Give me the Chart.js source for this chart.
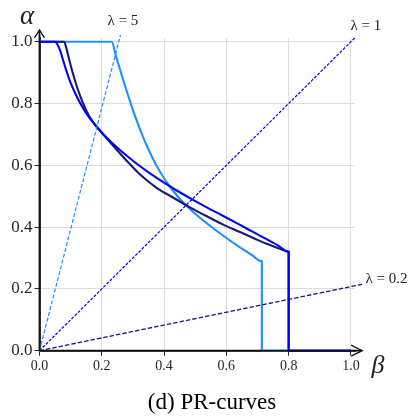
<!DOCTYPE html>
<html>
<head>
<meta charset="utf-8">
<script src="https://cdn.jsdelivr.net/npm/chart.js@4/dist/chart.umd.min.js"></script>
<style>
html,body{margin:0;padding:0;background:#fff;}
canvas{display:block;}
</style>
</head>
<body>
<canvas id="c" width="417" height="416"></canvas>
<script>
// ---- data ----
const tickValues = [0, 0.2, 0.4, 0.6, 0.8, 1.0];

const betaLight  = [0, 0.232, 0.245, 0.260, 0.275, 0.291, 0.310, 0.330, 0.350, 0.375, 0.400, 0.430, 0.460, 0.500, 0.540, 0.590, 0.640, 0.680, 0.714, 0.714, 1.0];
const alphaLight = [1, 1, 0.955, 0.905, 0.856, 0.806, 0.750, 0.698, 0.651, 0.600, 0.558, 0.516, 0.481, 0.443, 0.410, 0.372, 0.337, 0.311, 0.289, 0, 0];

const betaNavy  = [0, 0.079, 0.086, 0.094, 0.105, 0.120, 0.140, 0.160, 0.185, 0.215, 0.250, 0.290, 0.323, 0.375, 0.430, 0.483, 0.537, 0.590, 0.644, 0.690, 0.729, 0.770, 0.800, 0.800, 1.0];
const alphaNavy = [1, 1, 0.980, 0.948, 0.905, 0.855, 0.800, 0.758, 0.724, 0.688, 0.648, 0.604, 0.570, 0.528, 0.495, 0.464, 0.435, 0.408, 0.384, 0.363, 0.346, 0.331, 0.320, 0, 0];

const betaBlue  = [0, 0.050, 0.058, 0.066, 0.075, 0.085, 0.100, 0.120, 0.140, 0.160, 0.185, 0.215, 0.250, 0.290, 0.323, 0.375, 0.430, 0.483, 0.537, 0.590, 0.644, 0.690, 0.729, 0.765, 0.800, 0.800, 1.0];
const alphaBlue = [1, 1, 0.990, 0.972, 0.943, 0.910, 0.867, 0.822, 0.785, 0.754, 0.722, 0.690, 0.657, 0.623, 0.597, 0.560, 0.525, 0.494, 0.464, 0.436, 0.407, 0.382, 0.361, 0.341, 0.320, 0, 0];

const lam5Beta  = [0, 0.26];
const lam5Alpha = [0, 1.022];
const lam1Beta  = [0, 1.013];
const lam1Alpha = [0, 1.013];
const lam02Beta  = [0, 1.036];
const lam02Alpha = [0, 0.215];

const lambdaLabels = ['λ = 5', 'λ = 1', 'λ = 0.2'];
const labelBeta  = [0.268, 1.048, 1.114];
const labelAlpha = [1.067, 1.051, 0.232];

const xName = 'β';
const yName = 'α';
const caption = '(d) PR-curves';

// ---- build ----
const pts = (xs, ys) => xs.map((x, i) => ({x: x, y: ys[i]}));
const SERIF = '"Liberation Serif", "DejaVu Serif", serif';

const curve = (data, color) => ({
  data: data, borderColor: color, borderWidth: 2.1, pointRadius: 0,
  cubicInterpolationMode: 'monotone', fill: false, clip: false, borderJoinStyle: 'miter'
});
const dashed = (data, color, dash, w) => ({
  data: data, borderColor: color, borderWidth: w, borderDash: dash,
  pointRadius: 0, tension: 0, fill: false, clip: false
});

const decor = {
  id: 'decor',
  afterDraw(chart) {
    const ctx = chart.ctx;
    const xs = chart.scales.x, ys = chart.scales.y;
    const x0 = xs.getPixelForValue(0), y0 = ys.getPixelForValue(0);
    const xTip = xs.getPixelForValue(1.036), yTip = ys.getPixelForValue(1.038);
    ctx.save();
    ctx.strokeStyle = '#111';
    ctx.lineWidth = 1.8;
    ctx.lineCap = 'butt';
    ctx.beginPath();
    ctx.moveTo(x0, y0); ctx.lineTo(xTip, y0);
    ctx.moveTo(x0, y0); ctx.lineTo(x0, yTip);
    ctx.stroke();
    ctx.lineWidth = 1.3;
    ctx.beginPath();
    ctx.moveTo(xTip - 11, y0 - 5.5); ctx.lineTo(xTip, y0); ctx.lineTo(xTip - 11, y0 + 5.5);
    ctx.moveTo(x0 - 5, yTip + 8); ctx.lineTo(x0, yTip); ctx.lineTo(x0 + 5, yTip + 8);
    ctx.stroke();
    ctx.fillStyle = '#222';
    ctx.font = '15px ' + SERIF;
    ctx.textAlign = 'center';
    ctx.textBaseline = 'middle';
    lambdaLabels.forEach((t, i) => {
      ctx.fillText(t, xs.getPixelForValue(labelBeta[i]), ys.getPixelForValue(labelAlpha[i]));
    });
    ctx.font = 'italic 27px ' + SERIF;
    ctx.fillText(yName, 27, 17);
    ctx.font = 'italic 26px ' + SERIF;
    ctx.fillText(xName, 378, 366);
    ctx.fillStyle = '#000';
    ctx.font = '23px ' + SERIF;
    ctx.textBaseline = 'alphabetic';
    ctx.fillText(caption, 212, 409);
    ctx.restore();
  }
};

const setTicks = (scale) => { scale.ticks = tickValues.map(v => ({value: v})); };

new Chart(document.getElementById('c'), {
  type: 'line',
  data: {
    datasets: [
      dashed(pts(lam5Beta, lam5Alpha), '#1E90FF', [4, 2], 1.2),
      dashed(pts(lam1Beta, lam1Alpha), '#0000FF', [3, 1.5], 1.2),
      dashed(pts(lam02Beta, lam02Alpha), '#191970', [4.5, 2], 1.3),
      curve(pts(betaBlue, alphaBlue), '#0000FF'),
      curve(pts(betaNavy, alphaNavy), '#191970'),
      curve(pts(betaLight, alphaLight), '#1E90FF')
    ]
  },
  options: {
    responsive: false,
    devicePixelRatio: 1,
    animation: false,
    layout: {padding: {top: 38, right: 62, left: 0, bottom: 0}},
    plugins: {legend: {display: false}, tooltip: {enabled: false}, title: {display: false}},
    scales: {
      x: {
        type: 'linear', min: 0, max: 1.013,
        afterBuildTicks: setTicks,
        afterFit: (s) => { s.height = 65.3; },
        grid: {color: '#dcdcdc', lineWidth: 1, tickLength: 5, tickColor: '#222', tickWidth: 1},
        border: {display: true, color: '#111', width: 1.8},
        ticks: {font: {family: SERIF, size: 14}, color: '#262626', padding: 2,
                maxRotation: 0, callback: (v) => Number(v).toFixed(1)}
      },
      y: {
        type: 'linear', min: 0, max: 1.012,
        afterBuildTicks: setTicks,
        afterFit: (s) => { s.width = 39.5; },
        grid: {color: '#dcdcdc', lineWidth: 1, tickLength: 5, tickColor: '#222', tickWidth: 1},
        border: {display: true, color: '#111', width: 1.8},
        ticks: {font: {family: SERIF, size: 17}, color: '#262626', padding: 2,
                callback: (v) => Number(v).toFixed(1)}
      }
    }
  },
  plugins: [decor]
});
</script>
</body>
</html>
